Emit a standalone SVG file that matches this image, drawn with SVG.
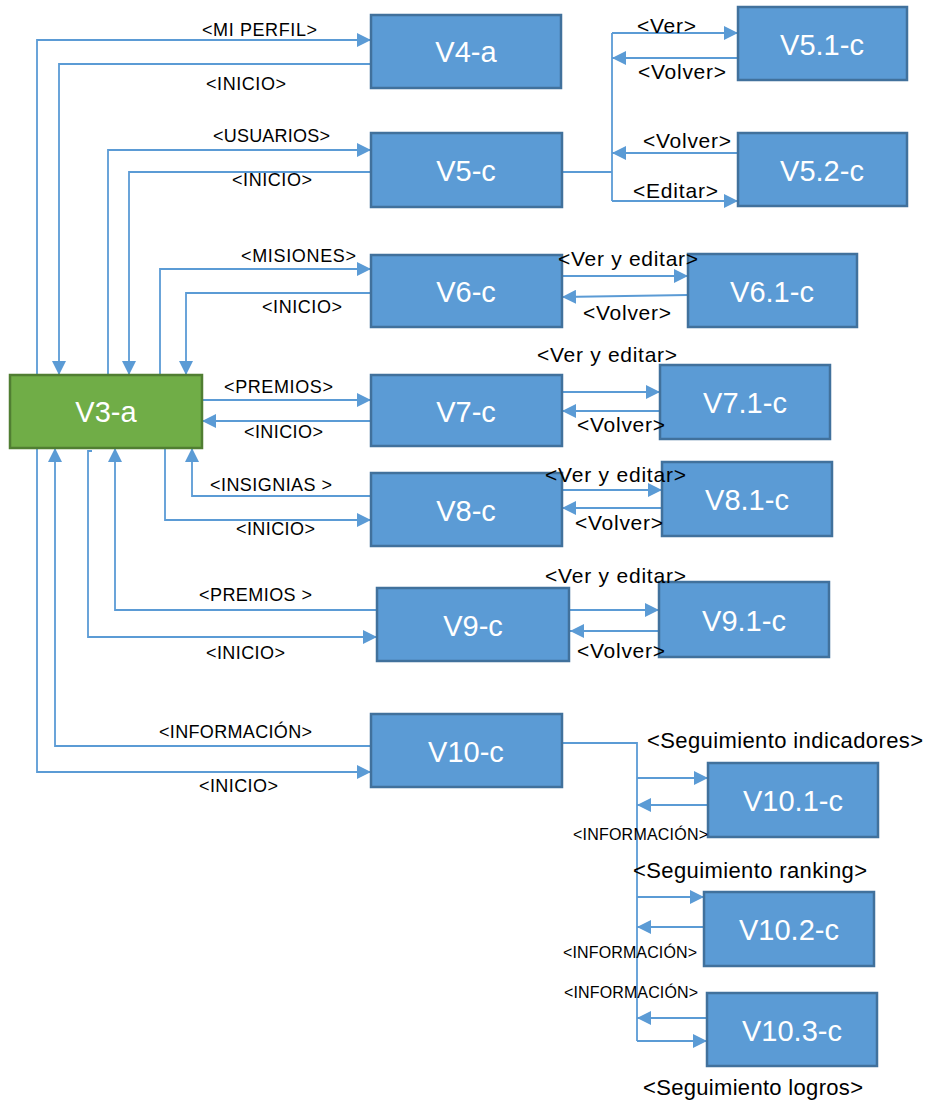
<svg xmlns="http://www.w3.org/2000/svg" width="927" height="1101" viewBox="0 0 927 1101">
  <style>
    .box { fill: #5B9BD5; stroke: #41719C; stroke-width: 2.5; }
    .green { fill: #70AD47; stroke: #507E32; stroke-width: 2.5; }
    .name { font-family: "Liberation Sans", Arial, sans-serif; font-size: 29px; fill: #ffffff; text-anchor: middle; }
    .lbl { font-family: "Liberation Sans", Arial, sans-serif; font-size: 18px; fill: #000000; }
    .lbl2 { font-family: "Liberation Sans", Arial, sans-serif; font-size: 21px; fill: #000000; }
    .lbl3 { font-family: "Liberation Sans", Arial, sans-serif; font-size: 22px; fill: #000000; }
    .lbls { font-family: "Liberation Sans", Arial, sans-serif; font-size: 16px; fill: #000000; }
    .c { fill: none; stroke: #5B9BD5; stroke-width: 1.8; }
    .a { marker-end: url(#arrow); }
  </style>
  <defs>
    <marker id="arrow" markerUnits="userSpaceOnUse" markerWidth="14" markerHeight="14" refX="14" refY="7" orient="auto">
      <path d="M0,0 L14,7 L0,14 z" fill="#5B9BD5"/>
    </marker>
  </defs>

  <rect width="927" height="1101" fill="#ffffff"/>

  <!-- connectors -->
  <g id="connectors">
    <!-- V3-a <-> V4-a -->
    <path class="c a" d="M37,375 V40 H371"/>
    <path class="c a" d="M371,64 H59 V375"/>
    <!-- V3-a <-> V5-c -->
    <path class="c a" d="M108,375 V150 H371"/>
    <path class="c a" d="M371,172 H129 V375"/>
    <!-- V3-a <-> V6-c -->
    <path class="c a" d="M160,375 V269 H371"/>
    <path class="c a" d="M371,293 H186 V375"/>
    <path class="c" d="M37,375 H173"/>
    <!-- V3-a <-> V7-c -->
    <path class="c a" d="M202,400 H371"/>
    <path class="c a" d="M371,421 H202"/>
    <!-- V3-a <-> V8-c -->
    <path class="c a" d="M371,496 H192 V448"/>
    <path class="c a" d="M165,448 V520 H371"/>
    <!-- V3-a <-> V9-c -->
    <path class="c a" d="M377,610 H115 V448"/>
    <path class="c a" d="M92,451 H88 V637 H377"/>
    <!-- V3-a <-> V10-c -->
    <path class="c a" d="M371,746 H55 V448"/>
    <path class="c a" d="M37,448 V772 H371"/>

    <!-- V5-c branch -->
    <path class="c" d="M562,172 H612"/>
    <path class="c" d="M612,33 V201"/>
    <path class="c a" d="M612,33 H738"/>
    <path class="c a" d="M738,58 H612"/>
    <path class="c a" d="M738,153 H612"/>
    <path class="c a" d="M612,201 H738"/>

    <!-- V6..V9 sub-screens -->
    <path class="c a" d="M562,276 H688"/>
    <path class="c a" d="M688,295 L562,297"/>
    <path class="c a" d="M562,392 H660"/>
    <path class="c a" d="M660,411 H562"/>
    <path class="c a" d="M562,490 H662"/>
    <path class="c a" d="M662,508 H562"/>
    <path class="c a" d="M570,610 H659"/>
    <path class="c a" d="M659,631 H570"/>

    <!-- V10-c branch -->
    <path class="c" d="M562,743 H637 V1041"/>
    <path class="c a" d="M637,778 H708"/>
    <path class="c a" d="M708,805 H637"/>
    <path class="c a" d="M637,897 H704"/>
    <path class="c a" d="M704,927 H637"/>
    <path class="c a" d="M707,1018 H637"/>
    <path class="c a" d="M637,1041 H707"/>
  </g>

  <!-- screens -->
  <g id="V3-a"><rect class="green" x="10" y="375" width="192" height="73"/><text class="name" x="106" y="422">V3-a</text></g>
  <g id="V4-a"><rect class="box" x="371" y="15" width="190" height="73"/><text class="name" x="466" y="62">V4-a</text></g>
  <g id="V5-c"><rect class="box" x="371" y="133" width="191" height="74"/><text class="name" x="466" y="181">V5-c</text></g>
  <g id="V5.1-c"><rect class="box" x="738" y="7" width="169" height="73"/><text class="name" x="822" y="55">V5.1-c</text></g>
  <g id="V5.2-c"><rect class="box" x="738" y="133" width="169" height="73"/><text class="name" x="822" y="181">V5.2-c</text></g>
  <g id="V6-c"><rect class="box" x="371" y="255" width="191" height="72"/><text class="name" x="466" y="302">V6-c</text></g>
  <g id="V6.1-c"><rect class="box" x="688" y="254" width="169" height="73"/><text class="name" x="772" y="302">V6.1-c</text></g>
  <g id="V7-c"><rect class="box" x="371" y="375" width="191" height="71"/><text class="name" x="466" y="422">V7-c</text></g>
  <g id="V7.1-c"><rect class="box" x="660" y="365" width="170" height="74"/><text class="name" x="745" y="413">V7.1-c</text></g>
  <g id="V8-c"><rect class="box" x="371" y="473" width="191" height="73"/><text class="name" x="466" y="521">V8-c</text></g>
  <g id="V8.1-c"><rect class="box" x="662" y="462" width="170" height="74"/><text class="name" x="747" y="510">V8.1-c</text></g>
  <g id="V9-c"><rect class="box" x="377" y="588" width="192" height="73"/><text class="name" x="473" y="636">V9-c</text></g>
  <g id="V9.1-c"><rect class="box" x="659" y="582" width="170" height="75"/><text class="name" x="744" y="631">V9.1-c</text></g>
  <g id="V10-c"><rect class="box" x="371" y="714" width="191" height="73"/><text class="name" x="466" y="762">V10-c</text></g>
  <g id="V10.1-c"><rect class="box" x="708" y="763" width="170" height="74"/><text class="name" x="793" y="811">V10.1-c</text></g>
  <g id="V10.2-c"><rect class="box" x="704" y="892" width="170" height="74"/><text class="name" x="789" y="940">V10.2-c</text></g>
  <g id="V10.3-c"><rect class="box" x="707" y="993" width="170" height="73"/><text class="name" x="792" y="1041">V10.3-c</text></g>

  <!-- connector labels (drawn last so they sit over the boxes) -->
  <g id="labels">
    <text class="lbl" x="202" y="36" textLength="115">&lt;MI PERFIL&gt;</text>
    <text class="lbl" x="206" y="90" textLength="80">&lt;INICIO&gt;</text>
    <text class="lbl" x="213" y="142" textLength="117">&lt;USUARIOS&gt;</text>
    <text class="lbl" x="232" y="186" textLength="80">&lt;INICIO&gt;</text>
    <text class="lbl" x="241" y="262" textLength="115">&lt;MISIONES&gt;</text>
    <text class="lbl" x="262" y="313" textLength="80">&lt;INICIO&gt;</text>
    <text class="lbl" x="224" y="393" textLength="109">&lt;PREMIOS&gt;</text>
    <text class="lbl" x="244" y="438" textLength="79">&lt;INICIO&gt;</text>
    <text class="lbl" x="210" y="491" textLength="122">&lt;INSIGNIAS &gt;</text>
    <text class="lbl" x="236" y="535" textLength="79">&lt;INICIO&gt;</text>
    <text class="lbl" x="199" y="601" textLength="113">&lt;PREMIOS &gt;</text>
    <text class="lbl" x="206" y="659" textLength="79">&lt;INICIO&gt;</text>
    <text class="lbl" x="159" y="738" textLength="153">&lt;INFORMACIÓN&gt;</text>
    <text class="lbl" x="199" y="792" textLength="79">&lt;INICIO&gt;</text>

    <text class="lbl2" x="637" y="33" textLength="59">&lt;Ver&gt;</text>
    <text class="lbl2" x="638" y="79" textLength="88">&lt;Volver&gt;</text>
    <text class="lbl2" x="643" y="148" textLength="88">&lt;Volver&gt;</text>
    <text class="lbl2" x="633" y="198" textLength="85">&lt;Editar&gt;</text>

    <text class="lbl2" x="558" y="266" textLength="140">&lt;Ver y editar&gt;</text>
    <text class="lbl2" x="583" y="320" textLength="88">&lt;Volver&gt;</text>
    <text class="lbl2" x="537" y="362" textLength="140">&lt;Ver y editar&gt;</text>
    <text class="lbl2" x="577" y="432" textLength="88">&lt;Volver&gt;</text>
    <text class="lbl2" x="545" y="482" textLength="141">&lt;Ver y editar&gt;</text>
    <text class="lbl2" x="575" y="530" textLength="88">&lt;Volver&gt;</text>
    <text class="lbl2" x="545" y="583" textLength="141">&lt;Ver y editar&gt;</text>
    <text class="lbl2" x="577" y="658" textLength="88">&lt;Volver&gt;</text>

    <text class="lbl3" x="647" y="748" textLength="276">&lt;Seguimiento indicadores&gt;</text>
    <text class="lbls" x="573" y="840" textLength="135">&lt;INFORMACIÓN&gt;</text>
    <text class="lbl3" x="633" y="878" textLength="234">&lt;Seguimiento ranking&gt;</text>
    <text class="lbls" x="563" y="958" textLength="134">&lt;INFORMACIÓN&gt;</text>
    <text class="lbls" x="564" y="998" textLength="134">&lt;INFORMACIÓN&gt;</text>
    <text class="lbl3" x="643" y="1095" textLength="220">&lt;Seguimiento logros&gt;</text>
  </g>
</svg>
